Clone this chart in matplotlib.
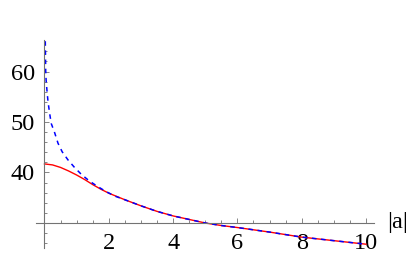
import numpy as np
import matplotlib
matplotlib.use('Agg')
import matplotlib.pyplot as plt
from matplotlib import font_manager

# values
x_red = [0, 0.25, 0.5, 0.75, 1.0, 1.25, 1.5, 1.75, 2.0, 2.5, 3.0, 3.5, 4.0,
         4.5, 5.0, 5.5, 6.0, 7.0, 8.0, 9.0, 10.0]
y_red = [41.7, 41.5, 41.0, 40.3, 39.5, 38.6, 37.6, 36.7, 35.9, 34.6, 33.4,
         32.3, 31.4, 30.7, 30.0, 29.5, 29.1, 28.2, 27.2, 26.5, 25.8]

x_blue = [0.025, 0.037, 0.05, 0.08, 0.11, 0.16, 0.21, 0.32, 0.42, 0.55, 0.73,
          0.92, 1.15, 1.4, 1.66, 1.92, 2.2, 2.5, 3.0, 3.5, 4.0, 4.5, 5.0, 5.5,
          6.0, 7.0, 8.0, 9.0, 10.0]
y_blue = [66.0, 60.3, 58.3, 56.0, 54.0, 51.7, 49.7, 47.8, 45.8, 44.1, 42.5,
          41.1, 39.6, 38.3, 37.2, 36.2, 35.3, 34.6, 33.4, 32.3, 31.4, 30.7,
          30.0, 29.5, 29.1, 28.2, 27.2, 26.5, 25.8]

x_ticks = [2, 4, 6, 8, 10]
y_ticks = [40, 50, 60]
x_label = '|a|'

# pick a Times-like serif: Liberation Serif if present, else matplotlib's STIX
names = {f.name for f in font_manager.fontManager.ttflist}
serif = 'Liberation Serif' if 'Liberation Serif' in names else 'STIXGeneral'
plt.rcParams['font.family'] = [serif, 'DejaVu Serif']
fs = 17.5

fig = plt.figure(figsize=(4.2, 2.6), dpi=100)
ax = fig.add_axes([0, 0, 1, 1])

ax.plot(x_red, y_red, color='#ff0000', lw=1.0)
ax.plot(x_blue, y_blue, color='#0000ff', lw=1.1, linestyle=(0, (3, 3)))

ax.set_xlim(-1.384, 11.68)
ax.set_ylim(22.67, 74.16)

for s in ['top', 'right']:
    ax.spines[s].set_visible(False)
ax.spines['left'].set_position(('data', 0))
ax.spines['bottom'].set_position(('data', 30))
ax.spines['left'].set_bounds(25.0, 66.2)
ax.spines['bottom'].set_bounds(-0.26, 10.25)
for s in ['left', 'bottom']:
    ax.spines[s].set_color('0.45')
    ax.spines[s].set_linewidth(0.8)

ax.set_xticks(x_ticks)
ax.set_xticks([v for v in np.arange(0.5, 10.01, 0.5) if v not in x_ticks], minor=True)
ax.set_yticks(y_ticks)
ax.set_yticks([v for v in range(26, 66, 2) if v not in (30, 40, 50, 60)], minor=True)

ax.tick_params(which='both', direction='in', color='0.45', width=0.6)
ax.tick_params(which='major', length=3.8)
ax.tick_params(which='minor', length=2.2)
ax.tick_params(axis='x', which='major', pad=7.5, labelsize=fs)
ax.tick_params(axis='y', which='major', pad=6.8, labelsize=fs)

ax.text(10.65, 30, x_label, fontsize=fs, ha='left', va='center')

fig.savefig('out.png', dpi=100)
